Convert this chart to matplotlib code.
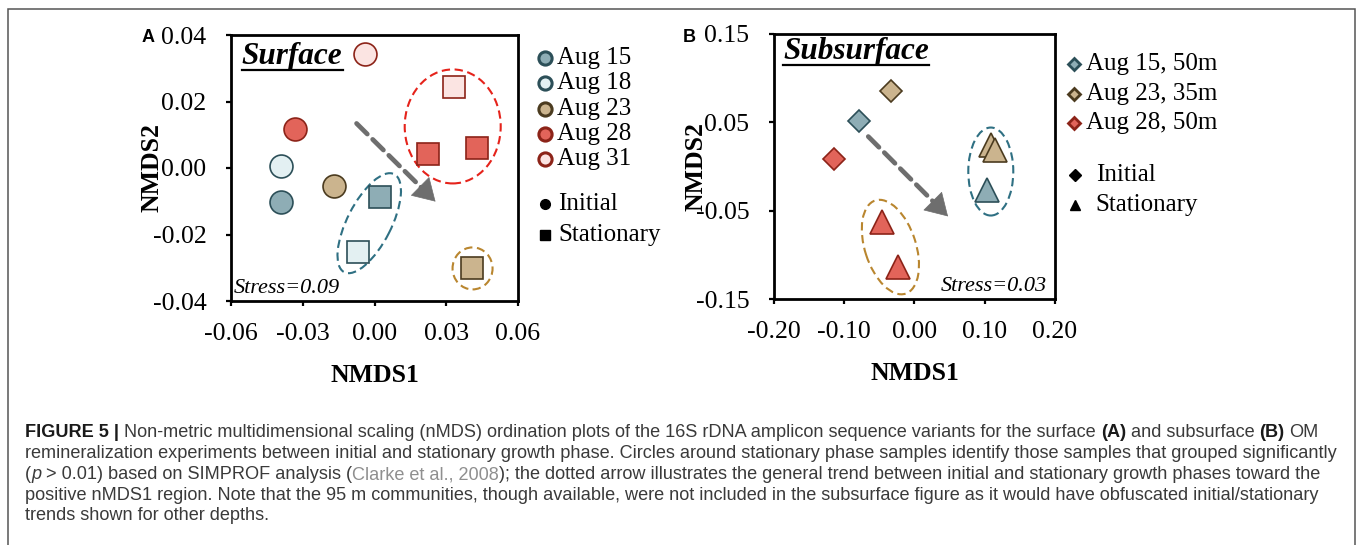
import numpy as np
import matplotlib
matplotlib.use('Agg')
import matplotlib.pyplot as plt
from matplotlib.patches import Ellipse, Rectangle
from matplotlib.lines import Line2D
from matplotlib.transforms import ScaledTranslation

W, H, DPI = 1358, 545, 100
SERIF = 'Liberation Serif'
SANS = 'Liberation Sans'

# ---- data ----
surf_dates = ['Aug 15', 'Aug 18', 'Aug 23', 'Aug 28', 'Aug 31']
surf_init_x = [-0.0390, -0.0390, -0.0169, -0.0334, -0.0041]
surf_init_y = [-0.0101, 0.0006, -0.0053, 0.0117, 0.0342]
# stationary: one list per date (Aug 28 has two samples)
surf_stat_x = [[0.0021], [-0.0068], [0.0409], [0.0225, 0.0428], [0.0334]]
surf_stat_y = [[-0.0088], [-0.0254], [-0.0302], [0.0041, 0.0059], [0.0245]]

sub_dates = ['Aug 15, 50m', 'Aug 23, 35m', 'Aug 28, 50m']
sub_init_x = [-0.079, -0.034, -0.115]
sub_init_y = [0.051, 0.086, 0.008]
sub_stat_x = [[0.103], [0.109, 0.114], [-0.046, -0.024]]
sub_stat_y = [[-0.027], [0.024, 0.019], [-0.063, -0.114]]

surf_fill = ['#8eadb5', '#e3f0f2', '#cbb48e', '#e2645a', '#fbe4e2']
surf_edge = ['#2c4f58', '#2c4f58', '#4b3b1f', '#8c2318', '#8c2318']
sub_fill = ['#8eadb5', '#cbb48e', '#e2645a']
sub_edge = ['#2c4f58', '#4b3b1f', '#8c2318']

# SIMPROF groups: centre (data), width/height in px, angle, colour
surf_groups = [((-0.0022, -0.0166), 110, 44, 63, '#2f7083'),
               ((0.0327, 0.0125), 96, 114, 0, '#e5231b'),
               ((0.0410, -0.0302), 40, 42, 0, '#b9862f')]
sub_groups = [((0.1086, -0.0057), 45, 88, 0, '#2f7083'),
              ((-0.0343, -0.0912), 98, 51, -72, '#b9862f')]

surf_arrow = ((-0.0075, 0.0134), (0.0255, -0.0101))
sub_arrow = ((-0.0658, 0.0339), (0.0477, -0.0565))

plt.rcParams['font.family'] = SERIF
fig = plt.figure(figsize=(W / DPI, H / DPI), dpi=DPI)
fig.patch.set_facecolor('white')
r = fig.canvas.get_renderer()


def px_axes(l, r_, t, b):
    return fig.add_axes([l / W, 1 - b / H, (r_ - l) / W, (b - t) / H])


def style_axes(ax, xlim, ylim, xticks, yticks):
    ax.set_xlim(*xlim)
    ax.set_ylim(*ylim)
    ax.set_xticks(xticks)
    ax.set_yticks(yticks)
    ax.set_xticklabels(['%.2f' % v for v in xticks])
    ax.set_yticklabels(['%.2f' % v for v in yticks])
    for s in ['top', 'right', 'left', 'bottom']:
        ax.spines[s].set_linewidth(2.0)
        ax.spines[s].set_color('black')
    ax.tick_params(direction='out', length=3.8, width=1.6, labelsize=18.5)
    ax.tick_params(axis='x', pad=12)
    ax.tick_params(axis='y', pad=14)
    ax.set_xlabel('NMDS1', fontsize=18.5, fontweight='bold', labelpad=14)
    ax.set_ylabel('NMDS2', fontsize=18.5, fontweight='bold')
    ax.yaxis.set_label_coords(-0.235, 0.5)


def draw_groups(ax, groups):
    for (cx, cy), w, h, ang, col in groups:
        tr = fig.dpi_scale_trans + ScaledTranslation(cx, cy, ax.transData)
        ax.add_patch(Ellipse((0, 0), w / DPI, h / DPI, angle=ang, transform=tr,
                             fill=False, ec=col, lw=1.5, ls=(0, (4, 2.2)), zorder=2))


def draw_arrow(ax, arr):
    (x0, y0), (x1, y1) = arr
    col = '#6e6e6e'
    # dashed shaft, stopping short of the tip
    xm, ym = x0 + 0.88 * (x1 - x0), y0 + 0.88 * (y1 - y0)
    ax.annotate('', xy=(xm, ym), xytext=(x0, y0),
                arrowprops=dict(arrowstyle='-', lw=3.4, ls=(0, (3.2, 1.6)),
                                color=col, shrinkA=0, shrinkB=0), zorder=1)
    # solid head
    xh, yh = x0 + 0.8 * (x1 - x0), y0 + 0.8 * (y1 - y0)
    ax.annotate('', xy=(x1, y1), xytext=(xh, yh),
                arrowprops=dict(arrowstyle='-|>,head_length=0.75,head_width=0.45',
                                lw=0.5, color=col, mutation_scale=20,
                                shrinkA=0, shrinkB=0), zorder=1)


def title_underlined(ax, x, y, s):
    t = ax.text(x, y, s, transform=ax.transAxes, fontsize=22.5, fontweight='bold',
                style='italic', va='baseline', ha='left')
    bb = t.get_window_extent(r)
    yb = ax.transAxes.transform((0, y))[1] - 6
    fig.add_artist(Line2D([bb.x0 / W, bb.x1 / W], [yb / H, yb / H],
                          transform=fig.transFigure, color='black', lw=1.6))


def legend_rows(ax, xm, xt, ys, labels, markers, fills, edges, ms, mew):
    for y, lab, m, fc, ec in zip(ys, labels, markers, fills, edges):
        ax.plot([xm], [y], marker=m, ms=ms, mfc=fc, mec=ec, mew=mew, ls='none',
                transform=ax.transAxes, clip_on=False)
        ax.text(xt, y, lab, transform=ax.transAxes, fontsize=18, va='center', ha='left')


# ---------------- panel A ----------------
axA = px_axes(231, 518, 35, 301)
style_axes(axA, (-0.06, 0.06), (-0.04, 0.04), [-0.06, -0.03, 0.0, 0.03, 0.06],
           [-0.04, -0.02, 0.0, 0.02, 0.04])
draw_arrow(axA, surf_arrow)
draw_groups(axA, surf_groups)
for i in range(len(surf_dates)):
    axA.plot(surf_init_x[i], surf_init_y[i], 'o', ms=16.5, mfc=surf_fill[i],
             mec=surf_edge[i], mew=1.2, zorder=3)
    axA.plot(surf_stat_x[i], surf_stat_y[i], 's', ms=16.5, mfc=surf_fill[i],
             mec=surf_edge[i], mew=1.2, ls='none', zorder=3)
title_underlined(axA, 0.038, 0.892, 'Surface')
axA.text(0.008, 0.03, 'Stress=0.09', transform=axA.transAxes, fontsize=16,
         style='italic', va='baseline', ha='left')
ysA = [(301 - y) / 266 for y in [58, 83, 109, 134, 159]]
legend_rows(axA, 1.094, 1.136, ysA, surf_dates, ['o'] * 5, surf_fill, surf_edge, 9.5, 2.2)
ysA2 = [(301 - y) / 266 for y in [204, 235]]
legend_rows(axA, 1.094, 1.14, ysA2, ['Initial', 'Stationary'], ['o', 's'],
            ['black'] * 2, ['black'] * 2, 7, 1)
fig.text(142 / W, 1 - 38 / H, 'A', family=SANS, fontweight='bold', fontsize=13,
         va='center', ha='left')

# ---------------- panel B ----------------
axB = px_axes(774, 1055, 34, 299)
style_axes(axB, (-0.2, 0.2), (-0.15, 0.15), [-0.2, -0.1, 0.0, 0.1, 0.2],
           [-0.15, -0.05, 0.05, 0.15])
draw_arrow(axB, sub_arrow)
draw_groups(axB, sub_groups)
for i in range(len(sub_dates)):
    axB.plot(sub_init_x[i], sub_init_y[i], 'D', ms=11.2, mfc=sub_fill[i],
             mec=sub_edge[i], mew=1.2, zorder=3)
    axB.plot(sub_stat_x[i], sub_stat_y[i], '^', ms=17, mfc=sub_fill[i],
             mec=sub_edge[i], mew=1.2, ls='none', zorder=3)
title_underlined(axB, 0.032, 0.905, 'Subsurface')
axB.text(0.972, 0.03, 'Stress=0.03', transform=axB.transAxes, fontsize=16,
         style='italic', va='baseline', ha='right')
ysB = [(299 - y) / 265 for y in [64, 94, 123]]
legend_rows(axB, 1.068, 1.112, ysB, sub_dates, ['D'] * 3, sub_fill, sub_edge, 6.5, 2.0)
ysB2 = [(299 - y) / 265 for y in [175, 205]]
legend_rows(axB, 1.07, 1.145, ysB2, ['Initial', 'Stationary'], ['D', '^'],
            ['black'] * 2, ['black'] * 2, 6.5, 1)
fig.text(683 / W, 1 - 38 / H, 'B', family=SANS, fontweight='bold', fontsize=13,
         va='center', ha='left')

# ---------------- caption ----------------
caption_lines = [
    [('FIGURE 5 |', 'b'),
     (' Non-metric multidimensional scaling (nMDS) ordination plots of the 16S rDNA '
      'amplicon sequence variants for the surface ', 'n'),
     ('(A)', 'b'), (' and subsurface ', 'n'), ('(B)', 'b'), (' OM', 'n')],
    [('remineralization experiments between initial and stationary growth phase. Circles '
      'around stationary phase samples identify those samples that grouped significantly', 'n')],
    [('(', 'n'), ('p', 'i'), (' > 0.01) based on SIMPROF analysis (', 'n'),
     ('Clarke et al., 2008', 'l'),
     ('); the dotted arrow illustrates the general trend between initial and stationary '
      'growth phases toward the', 'n')],
    [('positive nMDS1 region. Note that the 95 m communities, though available, were not '
      'included in the subsurface figure as it would have obfuscated initial/stationary', 'n')],
    [('trends shown for other depths.', 'n')],
]
cap_base = [437, 458, 479, 499.5, 520.5]


def cap_styles(size):
    base = dict(family=SANS, fontsize=size, color='#3a3a3a')
    return {'n': base,
            'b': dict(base, fontweight='bold', color='#1a1a1a'),
            'i': dict(base, style='italic'),
            'l': dict(base, color='#8f8f8f')}


def adv(s, kw):
    t1 = fig.text(0, 0, '|' + s + '|', **kw)
    t2 = fig.text(0, 0, '||', **kw)
    w = t1.get_window_extent(r).width - t2.get_window_extent(r).width
    t1.remove()
    t2.remove()
    return w


# size the caption so the second line spans the same width as in the figure
st = cap_styles(12)
w_line2 = sum(adv(s, st[k]) for s, k in caption_lines[1])
st = cap_styles(12 * (1340 - 25) / w_line2)

for line, yb in zip(caption_lines, cap_base):
    x = 25.0
    for s, k in line:
        kw = st[k]
        lead = len(s) - len(s.lstrip(' '))
        xs = x + (adv(' ' * lead, kw) if lead else 0)
        fig.text(xs / W, 1 - yb / H, s.strip(' '), va='baseline', ha='left', **kw)
        x += adv(s, kw)

# frame around the whole figure
fig.add_artist(Rectangle((7.5 / W, -0.05), (1354.5 - 7.5) / W, 1.05 - 9.5 / H,
                         transform=fig.transFigure, fill=False, ec='#555555', lw=1.1))

fig.savefig('out.png', dpi=DPI)
